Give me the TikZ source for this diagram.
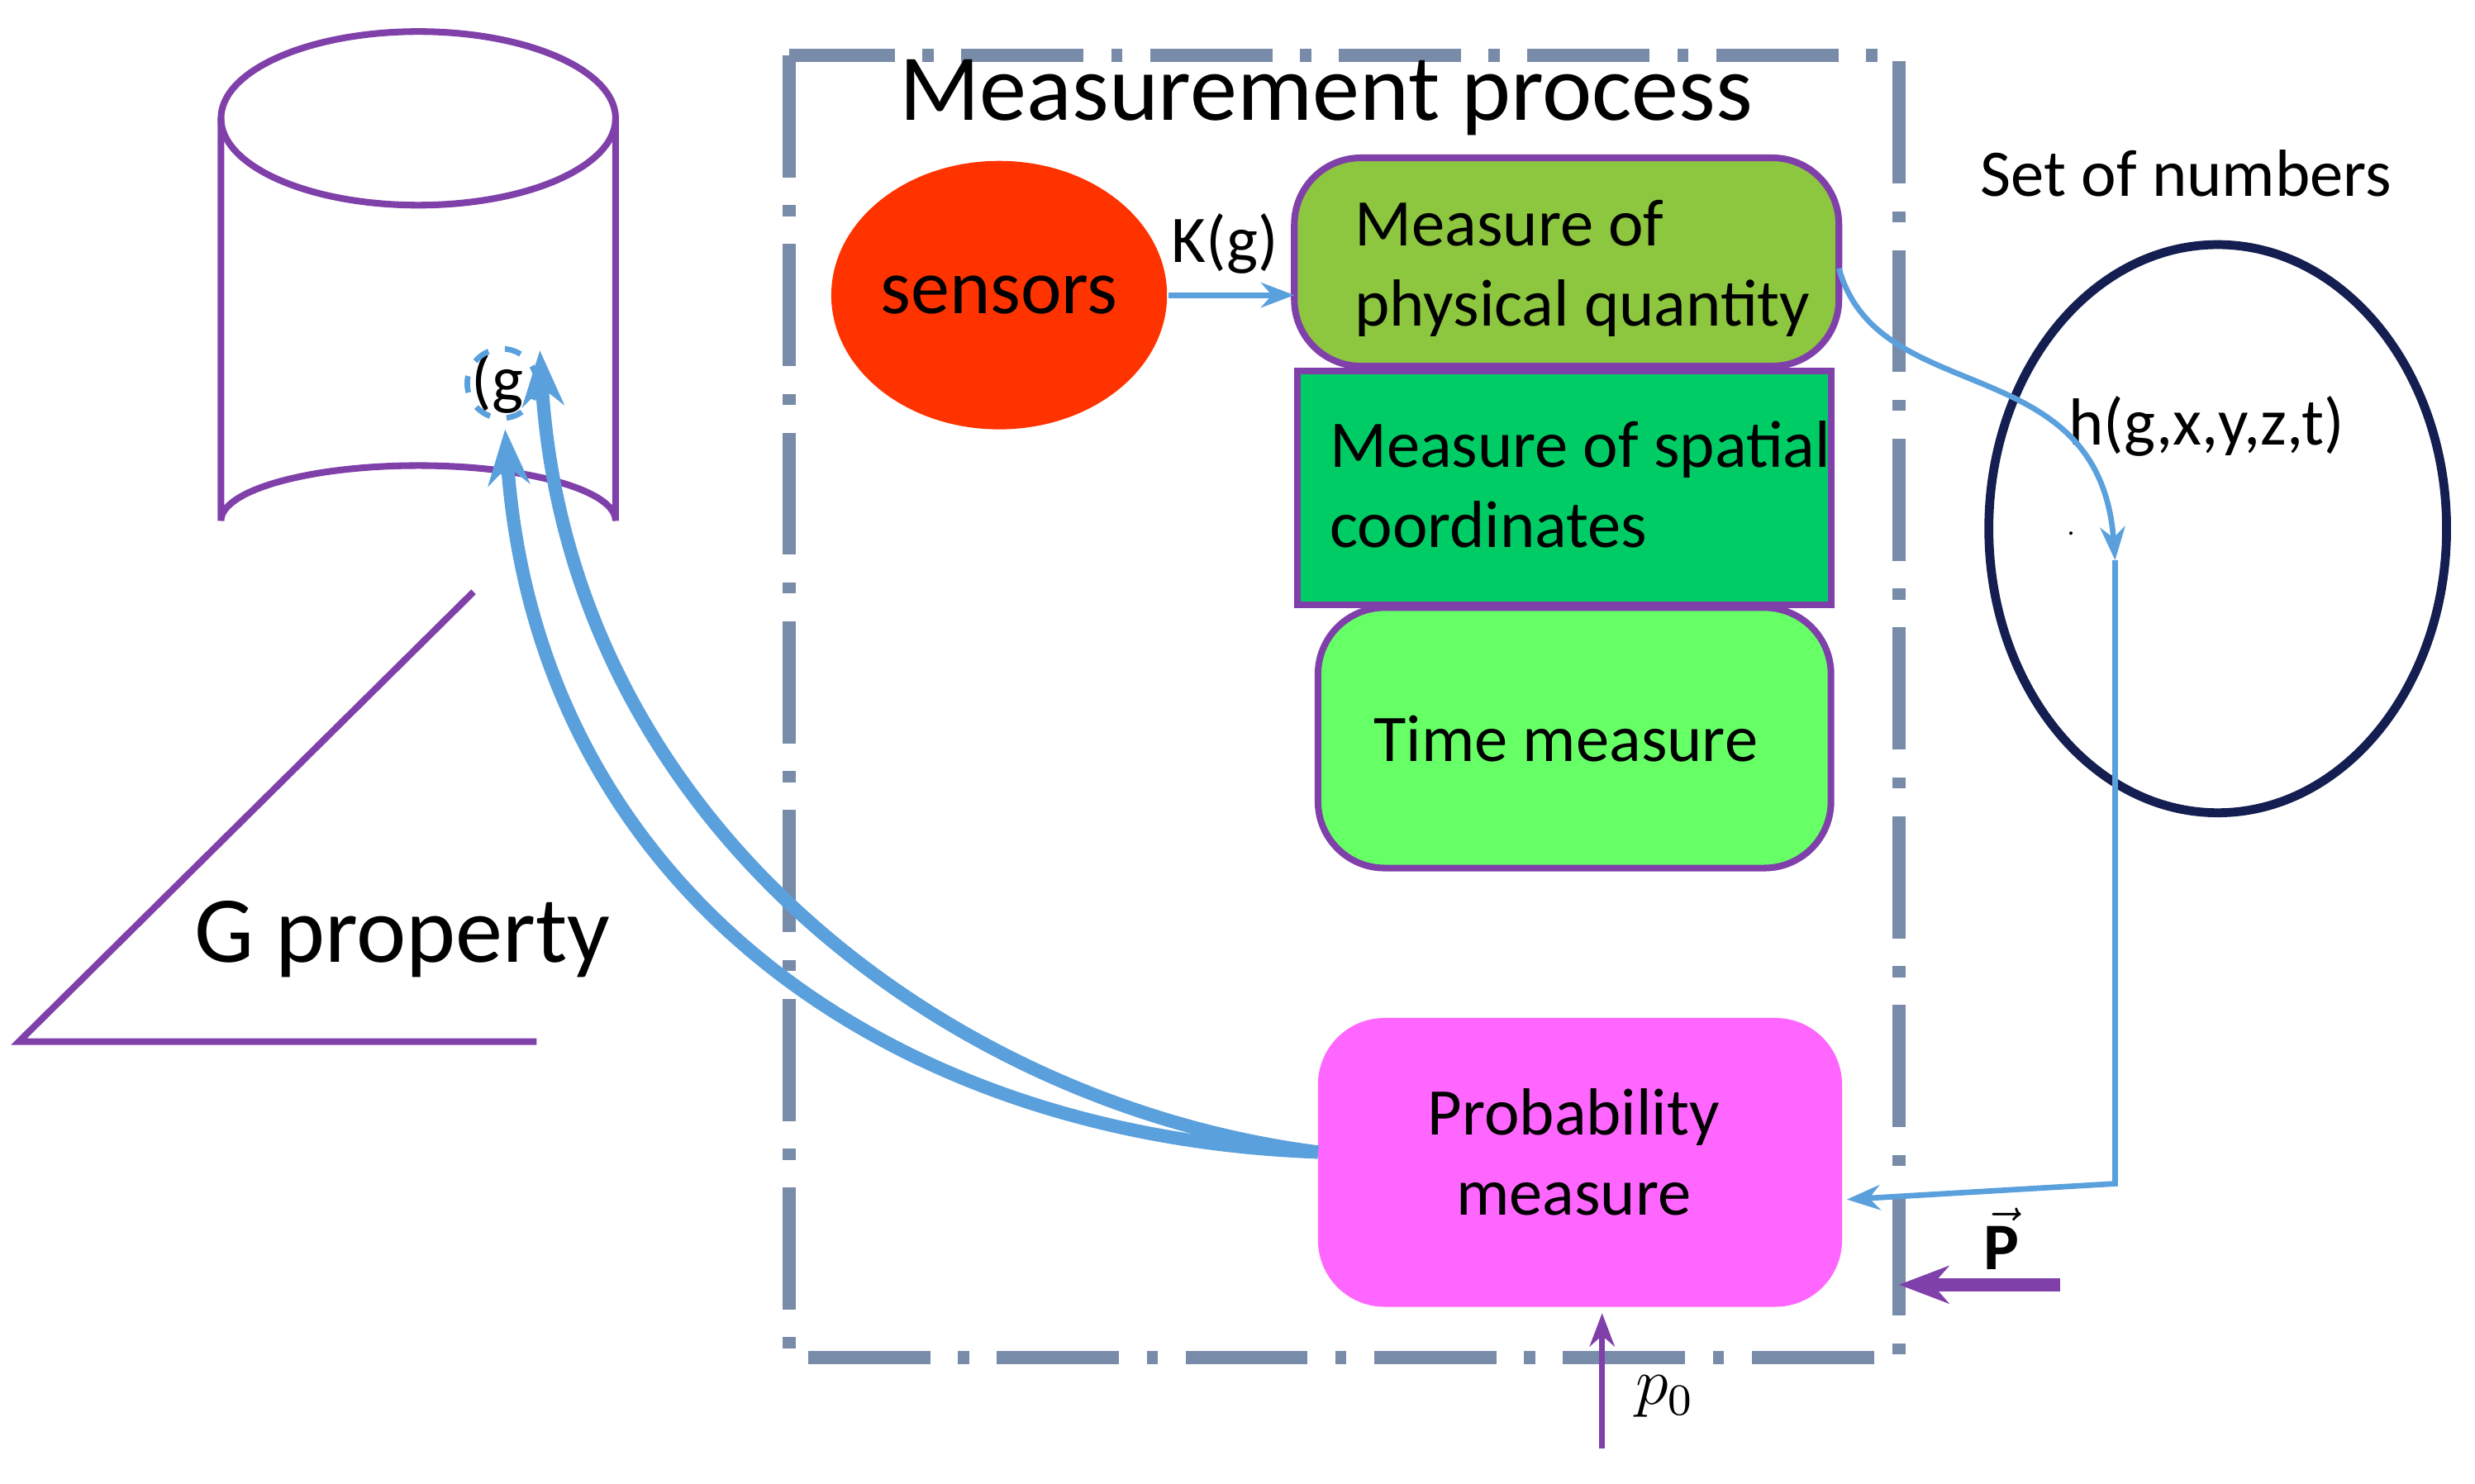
\documentclass[tikz,border=0pt]{standalone}
\usepackage{fontspec}
\setmainfont{Carlito}
\usetikzlibrary{positioning,arrows.meta,shapes.geometric}
\definecolor{cpurple}{RGB}{128,64,170}
\definecolor{cblue}{RGB}{90,160,220}
\definecolor{cgray}{RGB}{120,140,170}
\tikzset{
  box/.style={draw=cpurple,line width=1.2pt,rounded corners=12pt,align=left,inner sep=0pt},
  flow/.style={cblue,line width=1pt,-{Stealth[length=6pt]}},
  thickflow/.style={cblue,line width=2.4pt,-{Stealth[length=10pt]}}
}
\begin{document}
\begin{tikzpicture}[x=0.01cm,y=-0.01cm,every node/.style={font=\fontsize{12}{14.5}\selectfont,text=black}]
\useasboundingbox (0,0) rectangle (1568,940);
% storage cylinder
\draw[cpurple,line width=1.2pt] (265,75) ellipse[x radius=125,y radius=55];
\draw[cpurple,line width=1.2pt] (140,75) -- (140,330) arc[start angle=180,end angle=360,x radius=125,y radius=35] -- (390,75);
\draw[cpurple,line width=1.2pt] (300,375) -- (12,660) -- (340,660);
\node (gprop) at (255,595) {\fontsize{17}{20}\selectfont G property};
\node (g) at (315,243) {(g};
\draw[cblue,dashed,line width=1pt] (318,243) circle[radius=22];
% measurement process frame
\draw[cgray,line width=2.4pt,dash pattern=on 22pt off 5pt on 2pt off 5pt] (500,35) rectangle (1203,860);
\node (title) at (840,62) {\fontsize{17}{20}\selectfont Measurement process};
\node[ellipse,fill={rgb,255:red,255;green,51;blue,0},minimum width=2.1cm,minimum height=1.7cm,inner sep=0pt] (sens) at (633,187) {\fontsize{14}{17}\selectfont sensors};
\draw[box,fill={rgb,255:red,141;green,198;blue,63}] (820,100) rectangle (1165,232);
\node[align=left,anchor=west] (phys) at (846,170) {Measure of\\physical quantity};
\draw[box,rounded corners=0pt,fill={rgb,255:red,0;green,204;blue,102}] (822,235) rectangle (1160,383);
\node[align=left,anchor=west] (spat) at (830,307) {Measure of spatial\\coordinates};
\draw[box,fill={rgb,255:red,102;green,255;blue,102}] (835,385) rectangle (1160,550);
\node (time) at (992,468) {Time measure};
\draw[box,draw=none,fill={rgb,255:red,255;green,102;blue,255}] (835,645) rectangle (1167,828);
\node[align=center] (prob) at (997,730) {Probability\\measure};
\coordinate (physR) at (1165,170);
\coordinate (physL) at (820,187);
\coordinate (probR) at (1170,760);
\coordinate (probL) at (835,730);
\draw[flow] (sens.east) -- node[above,pos=0.45] {K(g)} (physL);
% set of numbers
\node (set) at (1385,110) {Set of numbers};
\draw[line width=1.6pt,color={rgb,255:red,20;green,30;blue,80}] (1405,335) ellipse[x radius=145,y radius=180];
\node (h) at (1398,270) {h(g,x,y,z,t)};
\node (dot) at (1312,338) {\tiny .};
\coordinate (hpt) at (1340,355);
\draw[flow] (physR) .. controls (1190,260) and (1330,220) .. (hpt);
\draw[flow] (hpt) -- (1340,750) -- (probR);
% inputs
\node (P) at (1268,785) {$\vec{\mathbf{P}}$};
\coordinate (Pstart) at (1305,814);
\coordinate (Pend) at (1203,814);
\draw[cpurple,line width=2.4pt,-{Stealth[length=9pt]}] (Pstart) -- (Pend);
\node (p0) at (1055,885) {$p_0$};
\coordinate (p0s) at (1015,918);
\coordinate (p0e) at (1015,832);
\draw[cpurple,line width=1pt,-{Stealth[length=6pt]}] (p0s) -- (p0e);
% feedback to g
\draw[thickflow] (probL) .. controls (560,720) and (340,560) .. (320,272);
\draw[thickflow] (probL) .. controls (600,700) and (360,520) .. (342,222);
\end{tikzpicture}
\end{document}
